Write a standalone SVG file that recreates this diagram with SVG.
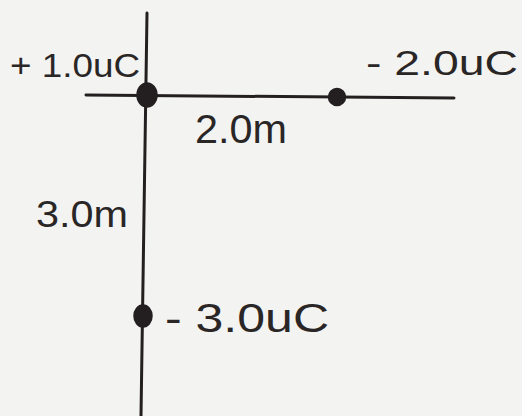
<svg xmlns="http://www.w3.org/2000/svg" width="522" height="416" viewBox="0 0 522 416">
<style>
.axis{stroke:#231f20;stroke-width:3;fill:none;stroke-linecap:round}
.charge{fill:#231f20;stroke:#231f20;stroke-width:1.5}
.lbl{font-family:"Liberation Sans",Arial,sans-serif;fill:#2a2626}
</style>
<rect x="0" y="0" width="522" height="416" fill="#f3f3f1"/>
<g id="connectors">
<line class="axis" x1="147" y1="13" x2="141" y2="416"/>
<line class="axis" x1="86" y1="95" x2="454" y2="98"/>
</g>
<g id="q1">
<ellipse class="charge" cx="147" cy="95" rx="10" ry="12"/>
<text class="lbl" x="10" y="77" font-size="33" textLength="130" lengthAdjust="spacingAndGlyphs">+ 1.0uC</text>
</g>
<g id="q2">
<circle class="charge" cx="337" cy="97" r="8.5"/>
<text class="lbl" x="366" y="75" font-size="35" textLength="152" lengthAdjust="spacingAndGlyphs">- 2.0uC</text>
</g>
<g id="q3">
<ellipse class="charge" cx="143" cy="316" rx="9" ry="11"/>
<text class="lbl" x="165" y="332" font-size="40" textLength="164" lengthAdjust="spacingAndGlyphs">- 3.0uC</text>
</g>
<g id="labels">
<text class="lbl" x="195" y="143" font-size="40" textLength="92" lengthAdjust="spacingAndGlyphs">2.0m</text>
<text class="lbl" x="36" y="227" font-size="36" textLength="92" lengthAdjust="spacingAndGlyphs">3.0m</text>
</g>
</svg>
